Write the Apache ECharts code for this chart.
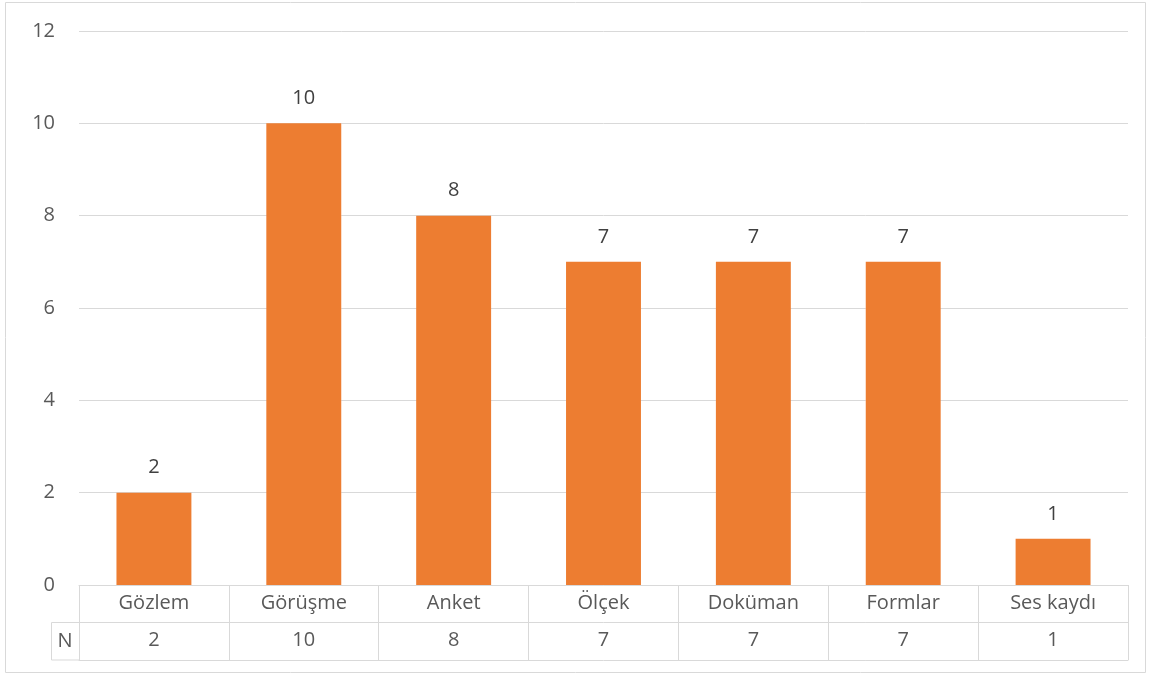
<!DOCTYPE html>
<html>
<head>
<meta charset="utf-8">
<script src="https://cdn.jsdelivr.net/npm/echarts@6/dist/echarts.min.js"></script>
<style>
  html, body { margin: 0; padding: 0; background: #fff; }
  #chart { width: 1149px; height: 675px; }
</style>
</head>
<body>
<div id="chart"></div>
<script>
// Data
const categories = ['Gözlem', 'Görüşme', 'Anket', 'Ölçek', 'Doküman', 'Formlar', 'Ses kaydı']
const values = [2, 10, 8, 7, 7, 7, 1]
const seriesName = 'N'

const lineColor = '#d9d9d9'
const textColor = '#595959'
const font = 'Open Sans'
const fontSize = 20

const chart = echarts.init(document.getElementById('chart'))

// table layout below the plot (Excel data table)
const gridLeft = 79
const axisY = 585
const rowH = 37.5

const option = {
  animation: false,
  textStyle: { fontFamily: font },
  grid: { left: gridLeft, right: 21, top: 31, bottom: 675 - axisY },
  xAxis: [
    {
      type: 'category',
      data: categories,
      axisLine: { lineStyle: { color: lineColor, width: 1 } },
      axisTick: { show: true, length: rowH * 2, lineStyle: { color: lineColor } },
      axisLabel: { color: textColor, fontSize: fontSize, margin: 8 }
    },
    {
      type: 'category',
      position: 'bottom',
      offset: rowH,
      data: values.map(String),
      axisLine: { lineStyle: { color: lineColor, width: 1 } },
      axisTick: { show: false },
      axisLabel: { color: textColor, fontSize: fontSize, margin: 8 }
    },
    {
      type: 'category',
      position: 'bottom',
      offset: rowH * 2,
      data: categories,
      axisLine: { lineStyle: { color: lineColor, width: 1 } },
      axisTick: { show: false },
      axisLabel: { show: false }
    }
  ],
  yAxis: {
    type: 'value',
    min: 0,
    max: 12,
    interval: 2,
    axisLine: { show: false },
    axisTick: { show: false },
    splitLine: { lineStyle: { color: lineColor, width: 1 } },
    axisLabel: { color: textColor, fontSize: fontSize, margin: 24 }
  },
  series: [
    {
      name: seriesName,
      type: 'bar',
      data: values,
      barCategoryGap: '50%',
      itemStyle: { color: '#ED7D31' },
      label: {
        show: true,
        position: 'top',
        distance: 15,
        color: '#404040',
        fontSize: fontSize
      }
    }
  ],
  graphic: [
    // outer chart border
    {
      type: 'rect',
      shape: { x: 5.5, y: 2.5, width: 1140, height: 670 },
      style: { fill: 'none', stroke: lineColor, lineWidth: 1 },
      silent: true
    },
    // series name cell of the data table
    {
      type: 'polyline',
      shape: {
        points: [[gridLeft, axisY + rowH], [51.5, axisY + rowH], [51.5, axisY + rowH * 2], [gridLeft, axisY + rowH * 2]]
      },
      style: { fill: 'none', stroke: lineColor, lineWidth: 1 },
      silent: true
    },
    {
      type: 'text',
      x: 65,
      y: axisY + rowH * 1.5,
      style: {
        text: seriesName,
        fill: textColor,
        font: fontSize + 'px "Open Sans"',
        align: 'center',
        verticalAlign: 'middle'
      },
      silent: true
    }
  ]
}

chart.setOption(option)

window.addEventListener('resize', () => chart.resize())
</script>
</body>
</html>
